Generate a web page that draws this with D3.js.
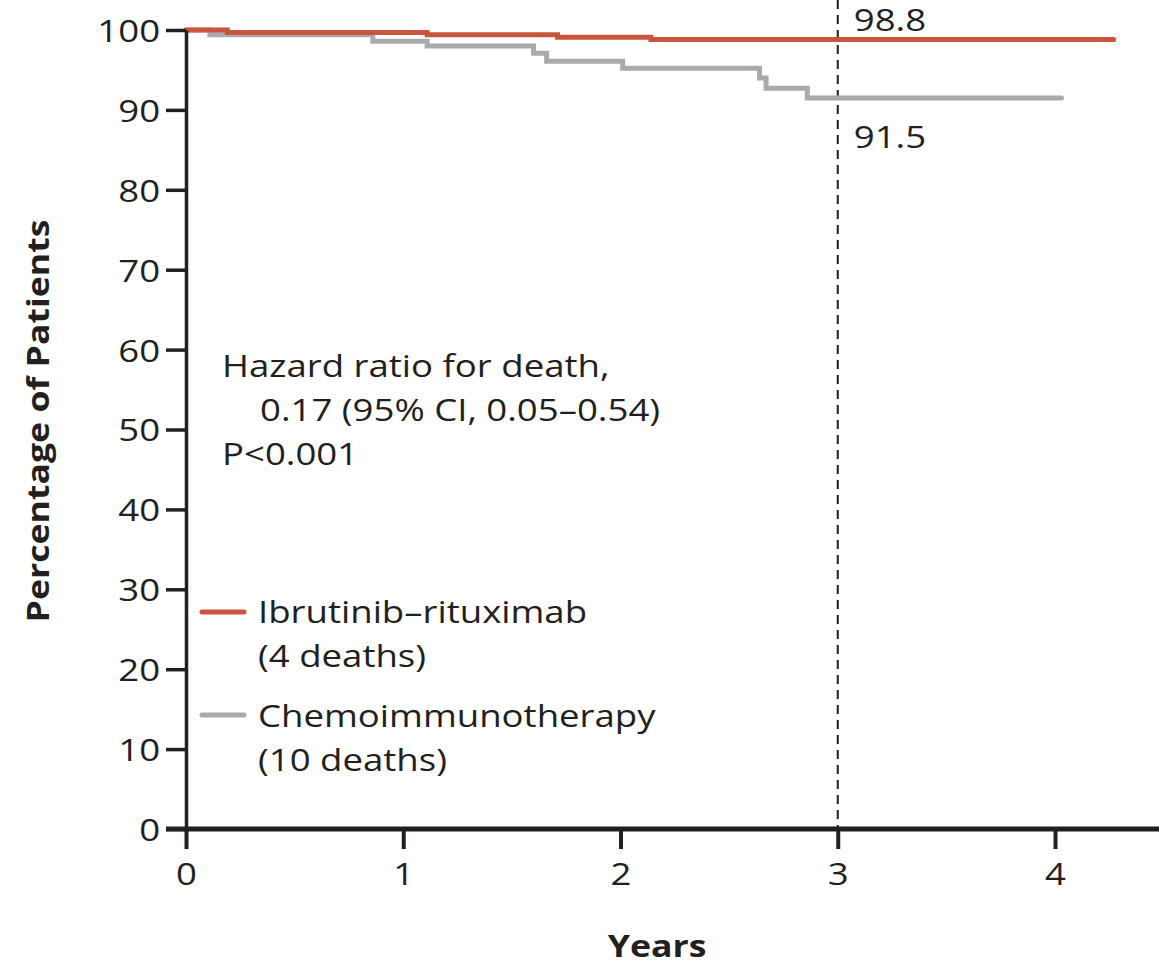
<!DOCTYPE html>
<html><head><meta charset="utf-8">
<script src="https://cdn.jsdelivr.net/npm/d3@7"></script>
<style>
html,body{margin:0;padding:0;background:#fff;}
svg{display:block;}
text{font-family:"Open Sans",sans-serif;fill:#231f20;}
</style></head>
<body>
<svg id="chart" width="1159" height="969"></svg>
<script>
// Data (Kaplan–Meier steps, years vs. % alive)
const ibrutinibTimes  = [0, 0.19, 1.11, 1.71, 2.14, 4.27];
const ibrutinibValues = [100, 99.7, 99.4, 99.1, 98.8, 98.8];
const chemoTimes  = [0, 0.11, 0.86, 1.11, 1.60, 1.66, 2.01, 2.64, 2.67, 2.86, 4.03];
const chemoValues = [100, 99.4, 98.6, 98.0, 97.1, 96.1, 95.2, 94.0, 92.7, 91.5, 91.5];
const xTicks = [0, 1, 2, 3, 4];
const yTicks = [0, 10, 20, 30, 40, 50, 60, 70, 80, 90, 100];
const landmarkYear = 3;
const landmarkLabels = ["98.8", "91.5"];
const seriesNames = ["Ibrutinib\u2013rituximab", "Chemoimmunotherapy"];
const seriesDeaths = ["(4 deaths)", "(10 deaths)"];
const annotationLines = ["Hazard ratio for death,", "0.17 (95% CI, 0.05\u20130.54)", "P<0.001"];

const RED = "#c9553d", GRAY = "#a8aaad", INK = "#231f20";
const SX = 1.18, SXB = 1.15, FS = 31;
const svg = d3.select("#chart");
const x = d3.scaleLinear().domain([0, 4]).range([186, 1055]);
const y = d3.scaleLinear().domain([0, 100]).range([829, 30]);

function addText(px, py, str, opts = {}) {
  return svg.append("text")
    .attr("transform", `translate(${px},${py}) scale(${opts.sx || SX},1)` + (opts.rot ? ` rotate(${opts.rot})` : ""))
    .attr("font-size", opts.fs || FS)
    .attr("font-weight", opts.bold ? "bold" : null)
    .attr("text-anchor", opts.anchor || "start")
    .text(str);
}

// dashed landmark line
svg.append("line")
  .attr("x1", x(landmarkYear)).attr("x2", x(landmarkYear))
  .attr("y1", 0).attr("y2", y(0))
  .attr("stroke", INK).attr("stroke-width", 2).attr("stroke-dasharray", "9,6");

// curves
const line = d3.line().x(d => x(d[0])).y(d => y(d[1])).curve(d3.curveStepAfter);
const chemo = chemoTimes.map((t, i) => [t, chemoValues[i]]);
const ibr = ibrutinibTimes.map((t, i) => [t, ibrutinibValues[i]]);
svg.append("path").datum(chemo).attr("d", line)
  .attr("fill", "none").attr("stroke", GRAY).attr("stroke-width", 5).attr("stroke-linecap", "round");
svg.append("path").datum(ibr).attr("d", line)
  .attr("fill", "none").attr("stroke", RED).attr("stroke-width", 5).attr("stroke-linecap", "round");

// Y axis
const yAxis = svg.append("g").attr("transform", `translate(${x(0)},0)`)
  .call(d3.axisLeft(y).tickValues(yTicks).tickSize(20).tickSizeOuter(0).tickPadding(2));
yAxis.select(".domain").attr("stroke", INK).attr("stroke-width", 3.5);
yAxis.selectAll(".tick line").attr("stroke", INK).attr("stroke-width", 3.5);
yAxis.selectAll(".tick text").attr("font-size", FS).attr("fill", INK).attr("dy", "0.37em")
  .attr("transform", `scale(${SX},1)`)
  .style("font-family", '"Open Sans",sans-serif');

// X axis
const xAxis = svg.append("g").attr("transform", `translate(0,${y(0)})`)
  .call(d3.axisBottom(x).tickValues(xTicks).tickFormat(d3.format("d")).tickSize(20).tickSizeOuter(0).tickPadding(14));
xAxis.select(".domain").remove();
xAxis.append("line").attr("x1", x(0) - 20).attr("x2", 1159).attr("y1", 0).attr("y2", 0)
  .attr("stroke", INK).attr("stroke-width", 5);
xAxis.selectAll(".tick line").attr("stroke", INK).attr("stroke-width", 4);
xAxis.selectAll(".tick text").attr("font-size", FS).attr("fill", INK)
  .attr("transform", `scale(${SX},1)`)
  .style("font-family", '"Open Sans",sans-serif');

// landmark labels
addText(x(landmarkYear) + 16, y(98.8) - 9, landmarkLabels[0]);
addText(x(landmarkYear) + 16, y(91.5) + 50, landmarkLabels[1]);

// annotation
addText(222, 377, annotationLines[0]);
addText(260, 421, annotationLines[1]);
addText(222, 465, annotationLines[2]);

// legend
const legend = [
  {color: RED, name: seriesNames[0], deaths: seriesDeaths[0], ly: 612, ty: 623},
  {color: GRAY, name: seriesNames[1], deaths: seriesDeaths[1], ly: 715, ty: 727}
];
legend.forEach(l => {
  svg.append("line").attr("x1", 202).attr("x2", 244).attr("y1", l.ly).attr("y2", l.ly)
    .attr("stroke", l.color).attr("stroke-width", 5).attr("stroke-linecap", "round");
  addText(258, l.ty, l.name);
  addText(258, l.ty + 44, l.deaths);
});

// axis titles
svg.append("text").attr("transform", "translate(49,421) rotate(-90) scale(1.15,1)")
  .attr("text-anchor", "middle").attr("font-size", FS).attr("font-weight", "bold")
  .text("Percentage of Patients");
addText(657, 957, "Years", {bold: true, anchor: "middle", sx: SXB});
</script>
</body></html>
